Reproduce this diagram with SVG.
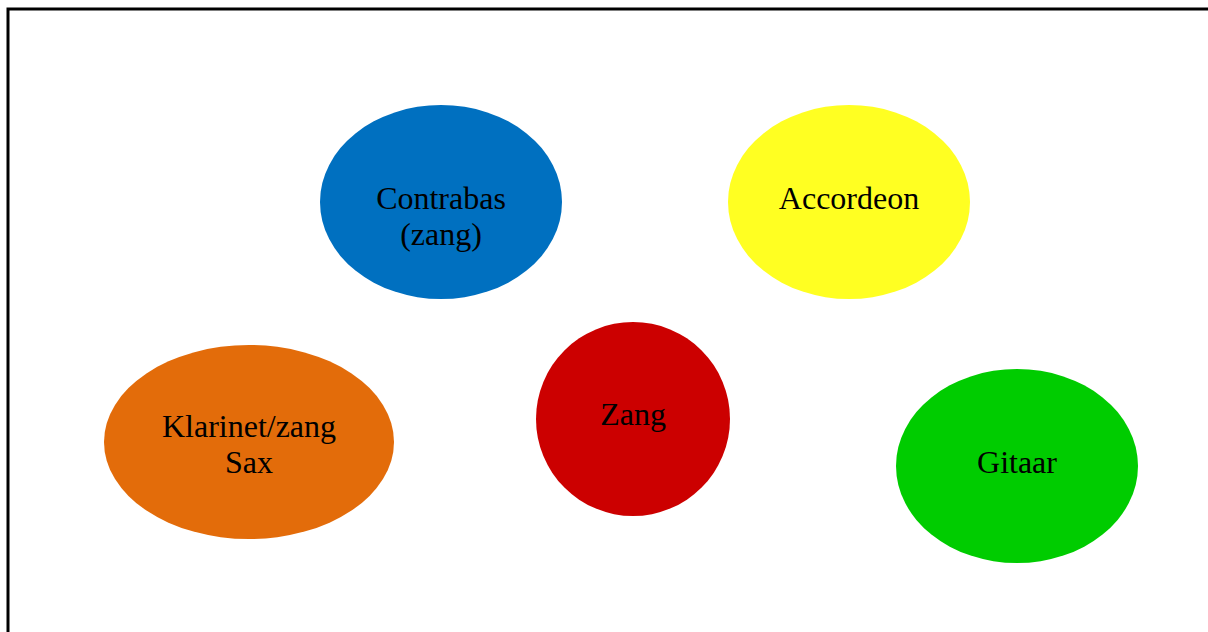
<svg xmlns="http://www.w3.org/2000/svg" width="1208" height="632" viewBox="0 0 1208 632">
<style>
text{font-family:"Liberation Serif","Times New Roman",serif;font-size:32px;fill:#000;text-anchor:middle}
</style>
<rect x="0" y="0" width="1208" height="632" fill="#fff"/>
<rect x="8" y="9" width="1220" height="640" fill="none" stroke="#000" stroke-width="3"/>
<g id="contrabas"><ellipse cx="441" cy="202" rx="121" ry="97" fill="#0070C0"/><text x="441" y="209">Contrabas</text><text x="441" y="245">(zang)</text></g>
<g id="accordeon"><ellipse cx="849" cy="202" rx="121" ry="97" fill="#FFFF22"/><text x="849" y="209">Accordeon</text></g>
<g id="klarinet"><ellipse cx="249" cy="442" rx="145" ry="97" fill="#E36C0A"/><text x="249" y="437">Klarinet/zang</text><text x="249" y="473">Sax</text></g>
<g id="zang"><ellipse cx="633" cy="419" rx="97" ry="97" fill="#CC0000"/><text x="633" y="425">Zang</text></g>
<g id="gitaar"><ellipse cx="1017" cy="466" rx="121" ry="97" fill="#00CC00"/><text x="1017" y="473">Gitaar</text></g>
<g id="connectors"></g>
</svg>
